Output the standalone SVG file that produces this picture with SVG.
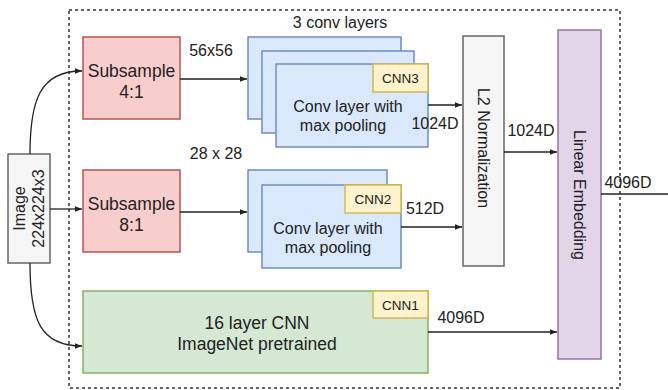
<svg xmlns="http://www.w3.org/2000/svg" width="668" height="390" viewBox="0 0 668 390">
<defs>
<style>
text{font-family:"Liberation Sans",Arial,sans-serif;fill:#222;}
.t16{font-size:16px;}
.t18{font-size:17.5px;}
.t14{font-size:13.5px;}
.red{fill:#f8cecc;stroke:#b85450;stroke-width:1.5;}
.blue{fill:#dae8fc;stroke:#6c8ebf;stroke-width:1.5;}
.yel{fill:#fff2cc;stroke:#d6b656;stroke-width:1.5;}
.grn{fill:#d5e8d4;stroke:#82b366;stroke-width:1.5;}
.gry{fill:#f5f5f5;stroke:#666;stroke-width:1.5;}
.pur{fill:#e1d5e7;stroke:#9673a6;stroke-width:1.5;}
.edge{fill:none;stroke:#222;stroke-width:1.3;}
</style>
<marker id="arr" viewBox="0 0 10 10" refX="10" refY="5" markerWidth="7" markerHeight="7" orient="auto" markerUnits="userSpaceOnUse">
<path d="M0,1 L10,5 L0,9 Z" fill="#222"/>
</marker>
</defs>
<rect x="69" y="10" width="551" height="378" fill="none" stroke="#333" stroke-width="1.5" stroke-dasharray="3,3"/>
<g id="image">
<rect class="gry" x="8" y="154" width="42" height="109"/>
<text class="t16" transform="translate(25,208.5) rotate(-90)" text-anchor="middle">Image</text>
<text class="t16" transform="translate(44,208.5) rotate(-90)" text-anchor="middle">224x224x3</text>
</g>
<g id="sub4">
<rect class="red" x="83" y="37" width="97" height="82"/>
<text class="t18" x="131.5" y="77" text-anchor="middle">Subsample</text>
<text class="t18" x="131.5" y="98" text-anchor="middle">4:1</text>
</g>
<g id="sub8">
<rect class="red" x="83" y="170" width="97" height="82"/>
<text class="t18" x="131.5" y="210" text-anchor="middle">Subsample</text>
<text class="t18" x="131.5" y="231" text-anchor="middle">8:1</text>
</g>
<g id="cnn3">
<text class="t16" x="340" y="28" text-anchor="middle">3 conv layers</text>
<rect class="blue" x="248" y="37" width="153" height="82"/>
<rect class="blue" x="262" y="51" width="152" height="82"/>
<rect class="blue" x="276" y="64" width="152" height="83"/>
<rect class="yel" x="373" y="64" width="55" height="28"/>
<text class="t14" x="400.5" y="83" text-anchor="middle">CNN3</text>
<text class="t16" x="348" y="112" text-anchor="middle">Conv layer with</text>
<text class="t16" x="343" y="131" text-anchor="middle">max pooling</text>
</g>
<g id="cnn2">
<rect class="blue" x="248" y="170" width="139" height="82"/>
<rect class="blue" x="262" y="185" width="139" height="83"/>
<rect class="yel" x="345" y="185" width="56" height="28"/>
<text class="t14" x="373" y="204" text-anchor="middle">CNN2</text>
<text class="t16" x="328" y="234" text-anchor="middle">Conv layer with</text>
<text class="t16" x="328" y="253" text-anchor="middle">max pooling</text>
</g>
<g id="cnn1">
<rect class="grn" x="83" y="291" width="345" height="82"/>
<rect class="yel" x="373" y="291" width="55" height="27"/>
<text class="t14" x="400.5" y="310" text-anchor="middle">CNN1</text>
<text class="t18" x="257" y="329" text-anchor="middle">16 layer CNN</text>
<text class="t18" x="257" y="350" text-anchor="middle">ImageNet pretrained</text>
</g>
<g id="l2">
<rect class="gry" x="463" y="36" width="41" height="230"/>
<text class="t16" transform="translate(478,148) rotate(90)" text-anchor="middle">L2 Normalization</text>
</g>
<g id="embed">
<rect class="pur" x="558" y="30" width="43" height="329"/>
<text class="t16" transform="translate(574,195) rotate(90)" text-anchor="middle">Linear Embedding</text>
</g>
<g id="connectors">
<path class="edge" d="M30,154 C30,100 40,71 82,71" marker-end="url(#arr)"/>
<path class="edge" d="M50,209 L82,209" marker-end="url(#arr)"/>
<path class="edge" d="M30,263 C30,320 40,346 82,346" marker-end="url(#arr)"/>
<path class="edge" d="M180,79 L247,79" marker-end="url(#arr)"/>
<path class="edge" d="M180,212 L247,212" marker-end="url(#arr)"/>
<path class="edge" d="M428,105 L462,105" marker-end="url(#arr)"/>
<path class="edge" d="M401,227 L462,227" marker-end="url(#arr)"/>
<path class="edge" d="M504,152 L557,152" marker-end="url(#arr)"/>
<path class="edge" d="M428,332 L557,332" marker-end="url(#arr)"/>
<path class="edge" d="M601,194 L668,194"/>
<text class="t16" x="211" y="56" text-anchor="middle">56x56</text>
<text class="t16" x="216" y="159" text-anchor="middle">28 x 28</text>
<text class="t16" x="435" y="129" text-anchor="middle">1024D</text>
<text class="t16" x="425" y="214" text-anchor="middle">512D</text>
<text class="t16" x="531" y="136" text-anchor="middle">1024D</text>
<text class="t16" x="461" y="323" text-anchor="middle">4096D</text>
<text class="t16" x="628" y="188" text-anchor="middle">4096D</text>
</g>
</svg>
